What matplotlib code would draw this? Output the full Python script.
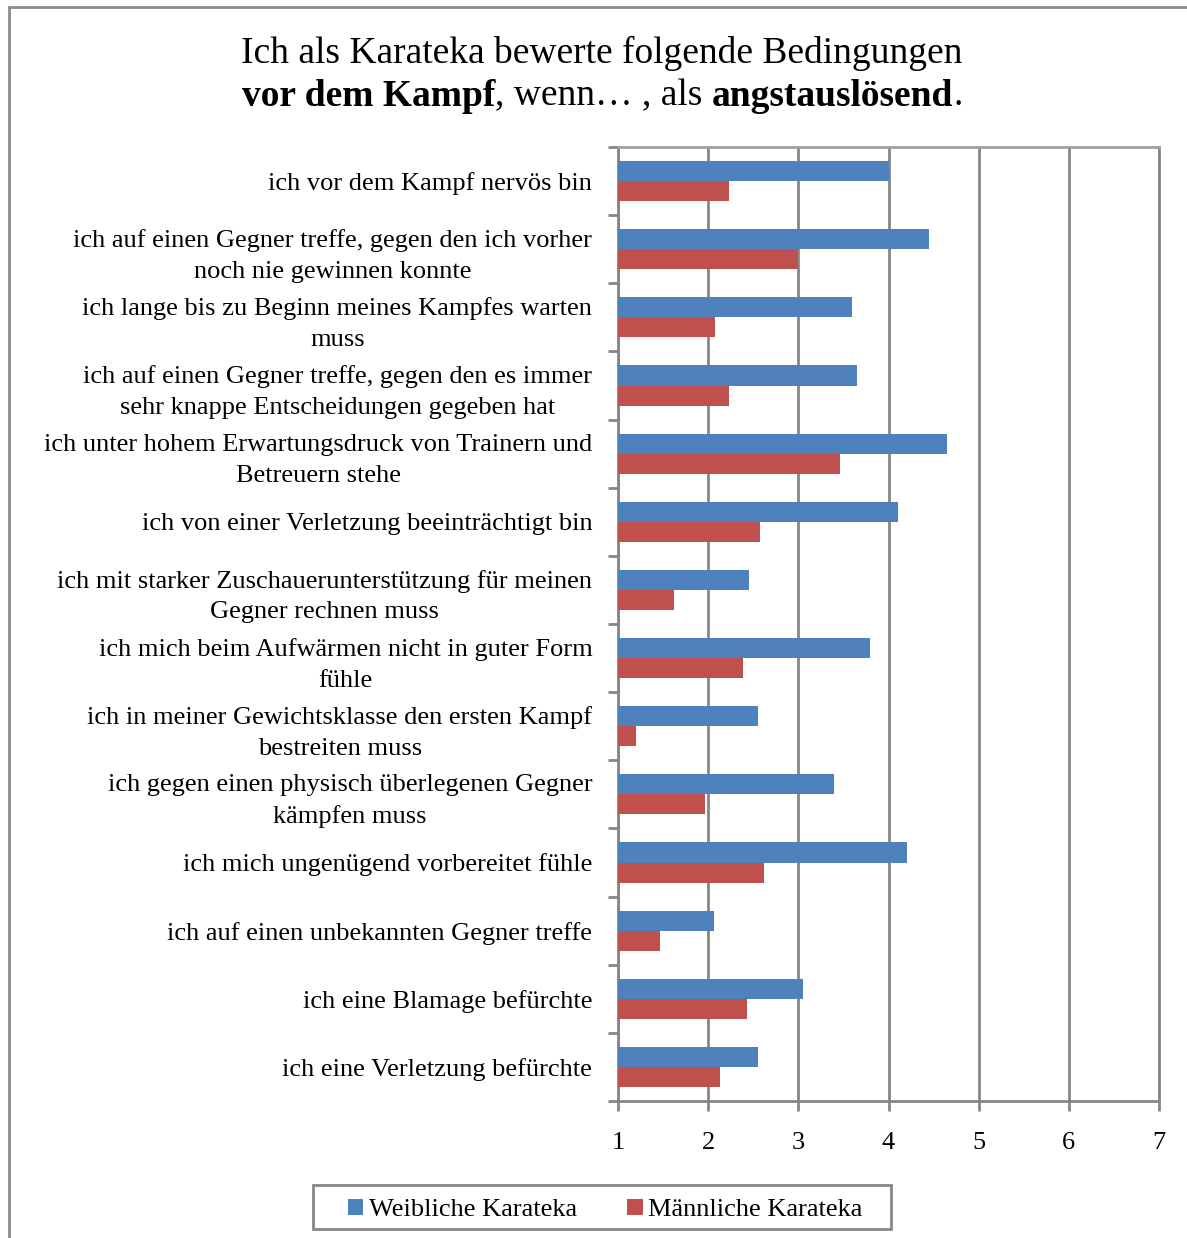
import numpy as np
import matplotlib.pyplot as plt
from matplotlib.patches import Rectangle

plt.rcParams['font.family'] = ['Liberation Serif', 'DejaVu Serif']

conditions = [
    "ich vor dem Kampf nervös bin",
    "ich auf einen Gegner treffe, gegen den ich vorher\nnoch nie gewinnen konnte",
    "ich lange bis zu Beginn meines Kampfes warten\nmuss",
    "ich auf einen Gegner treffe, gegen den es immer\nsehr knappe Entscheidungen gegeben hat",
    "ich unter hohem Erwartungsdruck von Trainern und\nBetreuern stehe",
    "ich von einer Verletzung beeinträchtigt bin",
    "ich mit starker Zuschauerunterstützung für meinen\nGegner rechnen muss",
    "ich mich beim Aufwärmen nicht in guter Form\nfühle",
    "ich in meiner Gewichtsklasse den ersten Kampf\nbestreiten muss",
    "ich gegen einen physisch überlegenen Gegner\nkämpfen muss",
    "ich mich ungenügend vorbereitet fühle",
    "ich auf einen unbekannten Gegner treffe",
    "ich eine Blamage befürchte",
    "ich eine Verletzung befürchte",
]
weiblich = [4.00, 4.45, 3.60, 3.65, 4.65, 4.10, 2.45, 3.79, 2.55, 3.40, 4.20, 2.06, 3.05, 2.55]
maennlich = [2.23, 3.00, 2.08, 2.23, 3.46, 2.58, 1.62, 2.39, 1.20, 1.96, 2.62, 1.47, 2.43, 2.13]
x_ticks = [1, 2, 3, 4, 5, 6, 7]

blue = '#4F81BD'
red = '#C0504D'
grey = '#868686'

W, H = 1187, 1238
fig = plt.figure(figsize=(W / 100, H / 100), dpi=100)
ax = fig.add_axes([618 / W, 1 - 1101 / H, (1159 - 618) / W, (1101 - 147) / H])

# outer chart frame
fig.patches.append(Rectangle((9 / W, -0.1), 1.2, 1 - 7 / H + 0.1, transform=fig.transFigure,
                             fill=False, edgecolor='#8c8c8c', linewidth=2))

y = np.arange(len(conditions))
h = 0.295
ax.barh(y - h / 2, np.array(weiblich) - 1, h, left=1, color=blue, label='Weibliche Karateka', zorder=3)
ax.barh(y + h / 2, np.array(maennlich) - 1, h, left=1, color=red, label='Männliche Karateka', zorder=3)

ax.set_xlim(1, 7)
ax.set_ylim(len(conditions) - 0.5, -0.5)
ax.set_xticks(x_ticks)
ax.set_xticklabels([str(t) for t in x_ticks], fontsize=19)
ax.set_yticks(y)
ax.set_yticklabels(conditions, fontsize=19, multialignment='center', linespacing=1.5)
ax.set_yticks(np.arange(len(conditions) + 1) - 0.5, minor=True)
ax.tick_params(axis='y', which='major', length=0, pad=18.5)
ax.tick_params(axis='y', which='minor', length=7, width=2, color=grey, direction='out')
ax.tick_params(axis='x', length=7, width=2, color=grey, direction='out', pad=15)

ax.grid(axis='x', color=grey, linewidth=2, zorder=0)
for side in ['left', 'bottom', 'top', 'right']:
    ax.spines[side].set_color(grey)
    ax.spines[side].set_linewidth(2)
ax.spines['top'].set_color('#a0a0a0')

# legend entries, with its box drawn separately
fig.legend(loc='center', bbox_to_anchor=(605 / W, 1 - 1210 / H), ncol=2, fontsize=19,
           frameon=False, handlelength=0.6, handleheight=0.6,
           handletextpad=0.2, columnspacing=1.9, borderpad=0.4)
fig.patches.append(Rectangle((313 / W, 1 - 1229 / H), (891 - 313) / W, 44 / H, transform=fig.transFigure,
                             fill=False, edgecolor=grey, linewidth=2))

# title, second line mixes bold and regular runs
cx = 602 / W
fig.text(cx, 1 - 53 / H, 'Ich als Karateka bewerte folgende Bedingungen', ha='center', va='center', fontsize=27)
runs = [('vor dem Kampf', 'bold'), (', wenn… , als ', 'normal'), ('angstauslösend', 'bold'), ('.', 'normal')]
fig.canvas.draw()
renderer = fig.canvas.get_renderer()
texts = []
x = 0.0
for s, wt in runs:
    t = fig.text(x, 1 - 96 / H, s, ha='left', va='center', fontsize=27, fontweight=wt)
    texts.append(t)
    bb = t.get_window_extent(renderer)
    x += bb.width / W
start = cx - x / 2
x = start
for t in texts:
    t.set_x(x)
    x += t.get_window_extent(renderer).width / W

fig.savefig('out.png', dpi=100)
